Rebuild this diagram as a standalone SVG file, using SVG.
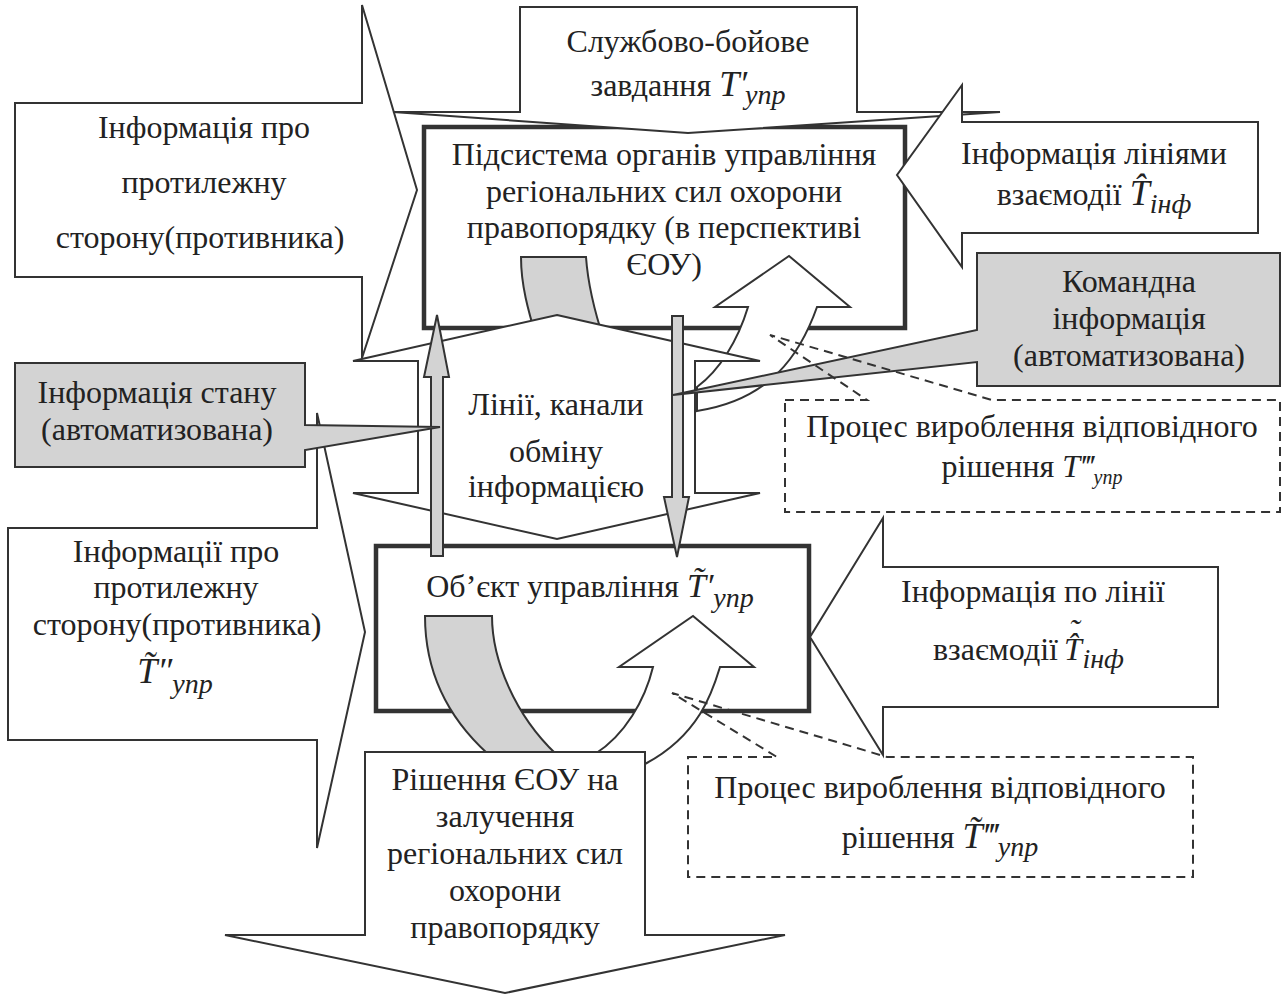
<svg xmlns="http://www.w3.org/2000/svg" width="1282" height="995" viewBox="0 0 1282 995">
  <style>
    .shape { fill: #fff; stroke: #333; stroke-width: 2; }
    .box { fill: #fff; stroke: #333; stroke-width: 4.5; }
    .grey { fill: #d3d3d3; stroke: #333; stroke-width: 2; }
    .dash { fill: none; stroke: #333; stroke-width: 2; stroke-dasharray: 9 6; }
    text { font-family: "Liberation Serif", "Times New Roman", serif; font-size: 32px; fill: #222; text-anchor: middle; }
    .i { font-style: italic; }
    .start { text-anchor: start; }
    .end { text-anchor: end; }
  </style>
  <rect width="1282" height="995" fill="#fff"/>

  <!-- main boxes -->
  <g id="subsystem">
    <rect class="box" x="424" y="127" width="481" height="201"/>
  </g>
  <g id="object">
    <rect class="box" x="376" y="546" width="433" height="165"/>
  </g>

  <!-- incoming block arrows -->
  <g id="enemy-info-top">
    <path class="shape" d="M15,103 L362,103 L362,5 L417,190 L362,358 L362,277 L15,277 Z"/>
  </g>
  <g id="task">
    <path class="shape" d="M520,7 L857,7 L857,112 L1000,112 L688,133 L393,112 L520,112 Z"/>
  </g>
  <g id="interaction-info-top">
    <path class="shape" d="M1258,122 L962,122 L962,85 L897,175 L962,267 L962,233 L1258,233 Z"/>
  </g>
  <g id="enemy-info-bottom">
    <path class="shape" d="M8,528 L317,528 L317,413 L365,632 L317,848 L317,740 L8,740 Z"/>
  </g>
  <g id="interaction-info-bottom">
    <path class="shape" d="M1218,567 L883,567 L883,518 L810,637 L883,755 L883,707 L1218,707 Z"/>
  </g>

  <g id="connectors">
    <!-- feedback loop inside the subsystem box -->
    <path class="shape" d="M748,307 L715,307 L789,256 L850,307 L817,307 C800,355 770,400 697,411 L697,387 C720,370 738,340 748,307 Z"/>
    <path class="grey" d="M521,257 L586,257 C588,285 594,310 604,340 L537,340 C528,310 521,285 521,257 Z"/>
    <!-- feedback loop inside the object box -->
    <path class="grey" d="M425,616 L492,616 C492,660 515,715 556,754 L488,754 C445,715 425,670 425,616 Z"/>
    <path class="shape" d="M653,667 L619,667 L693,616 L754,667 L720,667 C713,690 700,735 645,764 L595,754 C625,735 645,700 653,667 Z"/>
  </g>

  <!-- exchange channels (double-headed arrow) -->
  <g id="channels">
    <path class="shape" d="M557,315 L760,361 L695,361 L695,493 L760,493 L557,539 L353,493 L418,493 L418,361 L353,361 Z"/>
  </g>

  <g id="channel-arrows">
    <path class="grey" d="M431,556 L431,377 L424,377 L437,315 L449,377 L443,377 L443,556 Z"/>
    <path class="grey" d="M672,316 L683,316 L683,497 L689,497 L677,557 L664,497 L672,497 Z"/>
  </g>

  <!-- outgoing decision arrow -->
  <g id="decision">
    <path class="shape" d="M365,752 L645,752 L645,935 L785,935 L505,993 L225,935 L365,935 Z"/>
  </g>

  <!-- grey callouts -->
  <g id="command-info">
    <path class="grey" d="M977,253 L1280,253 L1280,386 L977,386 L977,362 L673,395 L977,330 Z"/>
  </g>
  <g id="state-info">
    <path class="grey" d="M15,363 L305,363 L305,425 L440,427 L305,450 L305,467 L15,467 Z"/>
  </g>

  <!-- dashed callouts -->
  <g id="process-top">
    <path class="dash" d="M785,400 L867,400 L770,335 L992,400 L1280,400 L1280,512 L785,512 Z"/>
  </g>
  <g id="process-bottom">
    <path class="dash" d="M688,757 L777,757 L672,693 L887,757 L1193,757 L1193,877 L688,877 Z"/>
  </g>

  <!-- labels -->
  <g id="labels">
    <text x="688" y="52">Службово-бойове</text>
    <text x="688" y="96">завдання <tspan class="i" font-size="36">T′</tspan><tspan class="i" font-size="28" dx="-2" dy="8">упр</tspan></text>

    <text x="204" y="138">Інформація про</text>
    <text x="204" y="193">протилежну</text>
    <text x="200" y="248">сторону(противника)</text>

    <text x="664" y="165">Підсистема органів управління</text>
    <text x="664" y="202">регіональних сил охорони</text>
    <text x="664" y="238">правопорядку (в перспективі</text>
    <text x="664" y="275">ЄОУ)</text>

    <text x="1094" y="164">Інформація лініями</text>
    <text x="1094" y="205">взаємодії <tspan class="i" font-size="36">T̂</tspan><tspan class="i" font-size="28" dy="8">інф</tspan></text>

    <text x="1129" y="292">Командна</text>
    <text x="1129" y="329">інформація</text>
    <text x="1129" y="366">(автоматизована)</text>

    <text x="157" y="403">Інформація стану</text>
    <text x="157" y="440">(автоматизована)</text>

    <text x="556" y="415">Лінії, канали</text>
    <text x="556" y="462">обміну</text>
    <text x="556" y="497">інформацією</text>

    <text x="1032" y="437">Процес вироблення відповідного</text>
    <text x="1032" y="477">рішення <tspan class="i" font-size="32">T‴</tspan><tspan class="i" font-size="20" dy="7">упр</tspan></text>

    <text x="176" y="562">Інформації про</text>
    <text x="176" y="598">протилежну</text>
    <text x="177" y="635">сторону(противника)</text>
    <text x="175" y="683"><tspan class="i" font-size="36">T̃″</tspan><tspan class="i" font-size="28" dy="10">упр</tspan></text>

    <text x="590" y="597">Об’єкт управління <tspan class="i" font-size="34">T̃′</tspan><tspan class="i" font-size="28" dy="10">упр</tspan></text>

    <text x="1033" y="602">Інформація по лінії</text>
    <text class="end" x="1058" y="660">взаємодії</text>
    <text class="i start" x="1064" y="660" font-size="36">T̂<tspan dx="-13" dy="-19">˜</tspan><tspan font-size="28" dx="3" dy="27">інф</tspan></text>

    <text x="940" y="798">Процес вироблення відповідного</text>
    <text x="940" y="848">рішення <tspan class="i" font-size="36">T̃‴</tspan><tspan class="i" font-size="28" dy="8">упр</tspan></text>

    <text x="505" y="790">Рішення ЄОУ на</text>
    <text x="505" y="827">залучення</text>
    <text x="505" y="864">регіональних сил</text>
    <text x="505" y="901">охорони</text>
    <text x="505" y="938">правопорядку</text>
  </g>
</svg>
